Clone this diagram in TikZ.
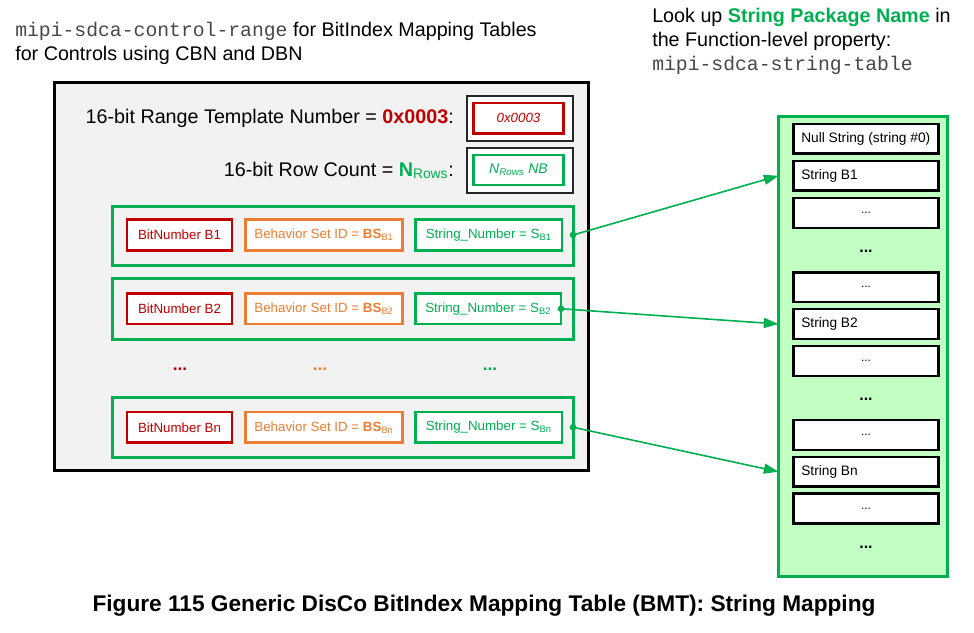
\documentclass[tikz,border=0pt]{standalone}
\usepackage{fontspec}
\setmainfont{Liberation Sans}
\setmonofont{Liberation Mono}
\usetikzlibrary{fit,arrows.meta}
\definecolor{cred}{HTML}{C00000}
\definecolor{corange}{HTML}{ED7D31}
\definecolor{cgreen}{HTML}{00B050}
\definecolor{cgray}{HTML}{F2F2F2}
\definecolor{clgreen}{HTML}{C2FFC2}
\newcommand{\rbox}[6]{\node[#6, fit={(#2,#3)(#4,#5)}] (#1) {};}
\newcommand{\mono}[1]{\textcolor{black!72}{\texttt{#1}}}
\begin{document}
\begin{tikzpicture}[x=0.75pt,y=-0.75pt,
  fbox/.style={inner sep=0pt, outer sep=0pt},
  mainbox/.style={fbox, draw=black, line width=2.25pt, fill=cgray},
  blackbox/.style={fbox, draw=black!85, line width=1.5pt, fill=white},
  redbox/.style={fbox, draw=cred, line width=1.9pt, fill=white},
  greenbox/.style={fbox, draw=cgreen, line width=1.9pt, fill=white},
  groupbox/.style={fbox, draw=cgreen, line width=2.25pt},
  rowred/.style={fbox, draw=cred, line width=1.6pt, fill=white},
  roworange/.style={fbox, draw=corange, line width=1.6pt, fill=white},
  rowgreen/.style={fbox, draw=cgreen, line width=1.6pt, fill=white},
  panel/.style={fbox, draw=cgreen, line width=2.25pt, fill=clgreen},
  strbox/.style={fbox, draw=black, line width=1.6pt, fill=white},
  bigtxt/.style={font=\fontsize{14.8}{17}\selectfont, inner sep=0pt},
  rowtxt/.style={font=\fontsize{10}{12}\selectfont, inner sep=0pt},
  strtxt/.style={font=\fontsize{10.3}{12}\selectfont, inner sep=0pt, anchor=west},
  rowdots/.style={inner sep=0pt, font=\bfseries\fontsize{13}{14}\selectfont},
  pdots/.style={inner sep=0pt, font=\bfseries\fontsize{12}{14}\selectfont},
  link/.style={draw=cgreen, line width=1.2pt, -{Triangle[length=11pt,width=7.5pt]}},
  dotstart/.style={fill=cgreen, circle, inner sep=0pt, minimum size=5pt}
]
\useasboundingbox (0,0) rectangle (974,632);

% top texts
\node[bigtxt, anchor=base west] (tl1) at (15,36) {\mono{mipi-sdca-control-range} for BitIndex Mapping Tables};
\node[bigtxt, anchor=base west] (tl2) at (15,60.5) {for Controls using CBN and DBN};
\node[bigtxt, anchor=base west] (tr1) at (652,22) {Look up \textcolor{cgreen}{\textbf{String Package Name}} in};
\node[bigtxt, anchor=base west] (tr2) at (652,46) {the Function-level property:};
\node[bigtxt, anchor=base west] (tr3) at (652,70) {\mono{mipi-sdca-string-table}};

% main box
\rbox{main}{54}{82}{588}{470}{mainbox}

% header boxes
\rbox{ob1}{466.5}{96}{572.5}{141}{blackbox}
\rbox{ib1}{473.5}{103}{563.5}{133.5}{redbox}
\node[rowtxt, text=cred, font=\itshape\fontsize{10}{12}\selectfont] (ib1t) at (ib1.center) {0x0003};
\rbox{ob2}{466.5}{148}{572.5}{192.5}{blackbox}
\rbox{ib2}{473.5}{155}{563.5}{185}{greenbox}
\node[rowtxt, text=cgreen, font=\itshape\fontsize{10.5}{12}\selectfont] (ib2t) at (ib2.center) {N\textsubscript{Rows} NB};

\node[bigtxt, anchor=base east] (lblR) at (454,123) {16-bit Range Template Number = \textcolor{cred}{\textbf{0x0003}}:};
\node[bigtxt, anchor=base east] (lblN) at (454,176) {16-bit Row Count = \textcolor{cgreen}{\textbf{N}\textsubscript{Rows}}:};

% row groups
\rbox{r1}{112}{206}{573}{265}{groupbox}
\rbox{b1}{127}{219.5}{232}{250.5}{rowred}
\rbox{h1}{245.5}{219.5}{402.5}{250.5}{roworange}
\rbox{s1}{415.5}{219.5}{562}{250.5}{rowgreen}
\node[rowtxt, text=cred] (b1t) at (b1.center) {BitNumber B1};
\node[rowtxt, text=corange] (h1t) at (h1.center) {Behavior Set ID = \textbf{BS}\textsubscript{B1}};
\node[rowtxt, text=cgreen] (s1t) at (s1.center) {String\_Number = S\textsubscript{B1}};

\rbox{r2}{112}{278.5}{573}{339}{groupbox}
\rbox{b2}{127}{293.5}{232}{324}{rowred}
\rbox{h2}{245.5}{293.5}{402.5}{324}{roworange}
\rbox{s2}{415.5}{293.5}{561}{324}{rowgreen}
\node[rowtxt, text=cred] (b2t) at (b2.center) {BitNumber B2};
\node[rowtxt, text=corange] (h2t) at (h2.center) {Behavior Set ID = \textbf{BS}\textsubscript{B2}};
\node[rowtxt, text=cgreen] (s2t) at (s2.center) {String\_Number = S\textsubscript{B2}};

\node[rowdots, text=cred] (dr) at (180,369) {...};
\node[rowdots, text=corange] (do) at (320,369) {...};
\node[rowdots, text=cgreen] (dg) at (490,369) {...};

\rbox{rn}{112}{397}{573}{457}{groupbox}
\rbox{bn}{127}{412}{232}{442.5}{rowred}
\rbox{hn}{245.5}{412}{402.5}{442.5}{roworange}
\rbox{sn}{415.5}{412}{562}{442.5}{rowgreen}
\node[rowtxt, text=cred] (bnt) at (bn.center) {BitNumber Bn};
\node[rowtxt, text=corange] (hnt) at (hn.center) {Behavior Set ID = \textbf{BS}\textsubscript{Bn}};
\node[rowtxt, text=cgreen] (snt) at (sn.center) {String\_Number = S\textsubscript{Bn}};

% right panel
\rbox{panel}{778.5}{116}{947}{576}{panel}
\rbox{p0}{793.5}{124}{938.5}{153.5}{strbox}
\rbox{pB1}{793.5}{161}{938.5}{190.5}{strbox}
\rbox{pa}{793.5}{198}{938.5}{228}{strbox}
\rbox{pb}{793.5}{272.5}{938.5}{302}{strbox}
\rbox{pB2}{793.5}{309}{938.5}{339}{strbox}
\rbox{pc}{793.5}{346}{938.5}{376}{strbox}
\rbox{pd}{793.5}{420}{938.5}{450}{strbox}
\rbox{pBn}{793.5}{457}{938.5}{486.5}{strbox}
\rbox{pe}{793.5}{493.5}{938.5}{523.5}{strbox}
\node[strtxt] (p0t) at (801,138.75) {Null String (string \#0)};
\node[strtxt] (pB1t) at (801,175.75) {String B1};
\node[strtxt] (pB2t) at (801,324) {String B2};
\node[strtxt] (pBnt) at (801,471.75) {String Bn};
\foreach \n in {pa,pb,pc,pd,pe}{
  \node[rowtxt, font=\fontsize{9}{10}\selectfont] (\n t) at (\n.center) {...};
}
\node[pdots] (pdots1) at (866,251) {...};
\node[pdots] (pdots2) at (866,399) {...};
\node[pdots] (pdots3) at (866,547) {...};

% connectors
\node[dotstart] (d1) at (r1.east |- s1.east) {};
\node[dotstart] (d2) at (s2.east) {};
\node[dotstart] (dn) at (rn.east |- sn.east) {};
\draw[link] (d1.center) -- (pB1.west -| panel.west);
\draw[link] (d2.center) -- (pB2.west -| panel.west);
\draw[link] (dn.center) -- (pBn.west -| panel.west);

% caption
\node[font=\bfseries\fontsize{17}{20}\selectfont, anchor=base, inner sep=0pt] (cap) at (484,611) {Figure 115 Generic DisCo BitIndex Mapping Table (BMT): String Mapping};
\end{tikzpicture}
\end{document}
